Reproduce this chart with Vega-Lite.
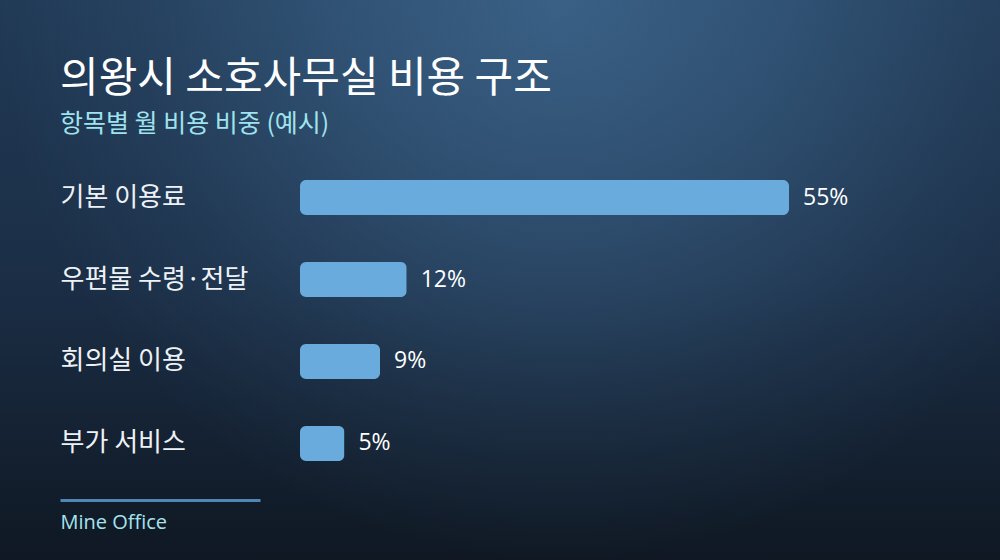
{
  "$schema": "https://vega.github.io/schema/vega-lite/v6.json",
  "width": 1000,
  "height": 560,
  "autosize": "none",
  "padding": 0,
  "background": "#0f1924",
  "title": {
    "text": "의왕시 소호사무실 비용 구조",
    "subtitle": "항목별 월 비용 비중 (예시)",
    "anchor": "start",
    "frame": "group",
    "offset": -138,
    "dx": 60,
    "font": "Noto Sans CJK KR",
    "fontSize": 42,
    "fontWeight": "normal",
    "color": "#ffffff",
    "subtitleFont": "Noto Sans CJK KR",
    "subtitleFontSize": 25,
    "subtitleColor": "#9fe3ee",
    "subtitlePadding": 11
  },
  "data": {
    "values": [
      {"item": "기본 이용료", "share": 55},
      {"item": "우편물 수령·전달", "share": 12},
      {"item": "회의실 이용", "share": 9},
      {"item": "부가 서비스", "share": 5}
    ]
  },
  "layer": [
    {
      "data": {"values": [{"part": "backdrop"}]},
      "mark": {
        "type": "rect",
        "fill": {
          "gradient": "linear",
          "x1": 0, "y1": 0, "x2": 0, "y2": 1,
          "stops": [
            {"offset": 0, "color": "#213a56"},
            {"offset": 0.5, "color": "#1b2e46"},
            {"offset": 1, "color": "#0f1823"}
          ]
        }
      },
      "encoding": {
        "x": {"value": 0},
        "x2": {"value": "width"},
        "y": {"value": 0},
        "y2": {"value": "height"}
      }
    },
    {
      "data": {"values": [{"part": "glow"}]},
      "mark": {
        "type": "rect",
        "fill": {
          "gradient": "radial",
          "x1": 0.56, "y1": 0.22, "r1": 0,
          "x2": 0.56, "y2": 0.22, "r2": 0.56,
          "stops": [
            {"offset": 0, "color": "rgba(74,122,166,0.6)"},
            {"offset": 0.4, "color": "rgba(74,122,166,0.38)"},
            {"offset": 0.75, "color": "rgba(74,122,166,0.12)"},
            {"offset": 1, "color": "rgba(74,122,166,0)"}
          ]
        }
      },
      "encoding": {
        "x": {"value": 0},
        "x2": {"value": "width"},
        "y": {"value": 0},
        "y2": {"value": "height"}
      }
    },
    {
      "mark": {"type": "bar", "color": "#68abdc", "cornerRadius": 6},
      "encoding": {
        "y": {
          "field": "item",
          "type": "nominal",
          "sort": null,
          "scale": {"range": [180, 461], "paddingInner": 0.573, "paddingOuter": 0},
          "axis": {
            "orient": "left",
            "offset": -60,
            "zindex": 1,
            "title": null,
            "domain": false,
            "ticks": false,
            "tickSize": 0,
            "labelPadding": 0,
            "labelAlign": "left",
            "labelBaseline": "middle",
            "labelFont": "Noto Sans CJK KR",
            "labelFontSize": 26,
            "labelColor": "#eef2f6",
            "labelLimit": 0
          }
        },
        "x": {
          "field": "share",
          "type": "quantitative",
          "scale": {"domain": [-33.74, 78.73], "nice": false, "zero": false},
          "axis": {
            "orient": "bottom",
            "offset": -60,
            "zindex": 1,
            "grid": false,
            "ticks": false,
            "labels": false,
            "domainColor": "#4f86b3",
            "domainWidth": 3,
            "domainDash": [0, 60, 200, 2000],
            "title": "Mine Office",
            "titleX": 60,
            "titleY": 22,
            "titleAlign": "left",
            "titleBaseline": "middle",
            "titleFont": "Open Sans",
            "titleFontSize": 20,
            "titleFontWeight": "normal",
            "titleColor": "#a6e3ee"
          }
        }
      }
    },
    {
      "transform": [{"calculate": "datum.share + '%'", "as": "label"}],
      "mark": {
        "type": "text",
        "align": "left",
        "baseline": "middle",
        "dx": 14,
        "font": "Open Sans",
        "fontSize": 23,
        "color": "#ffffff"
      },
      "encoding": {
        "y": {"field": "item", "type": "nominal", "sort": null},
        "x": {"field": "share", "type": "quantitative"},
        "text": {"field": "label"}
      }
    }
  ],
  "config": {"view": {"stroke": null}}
}
